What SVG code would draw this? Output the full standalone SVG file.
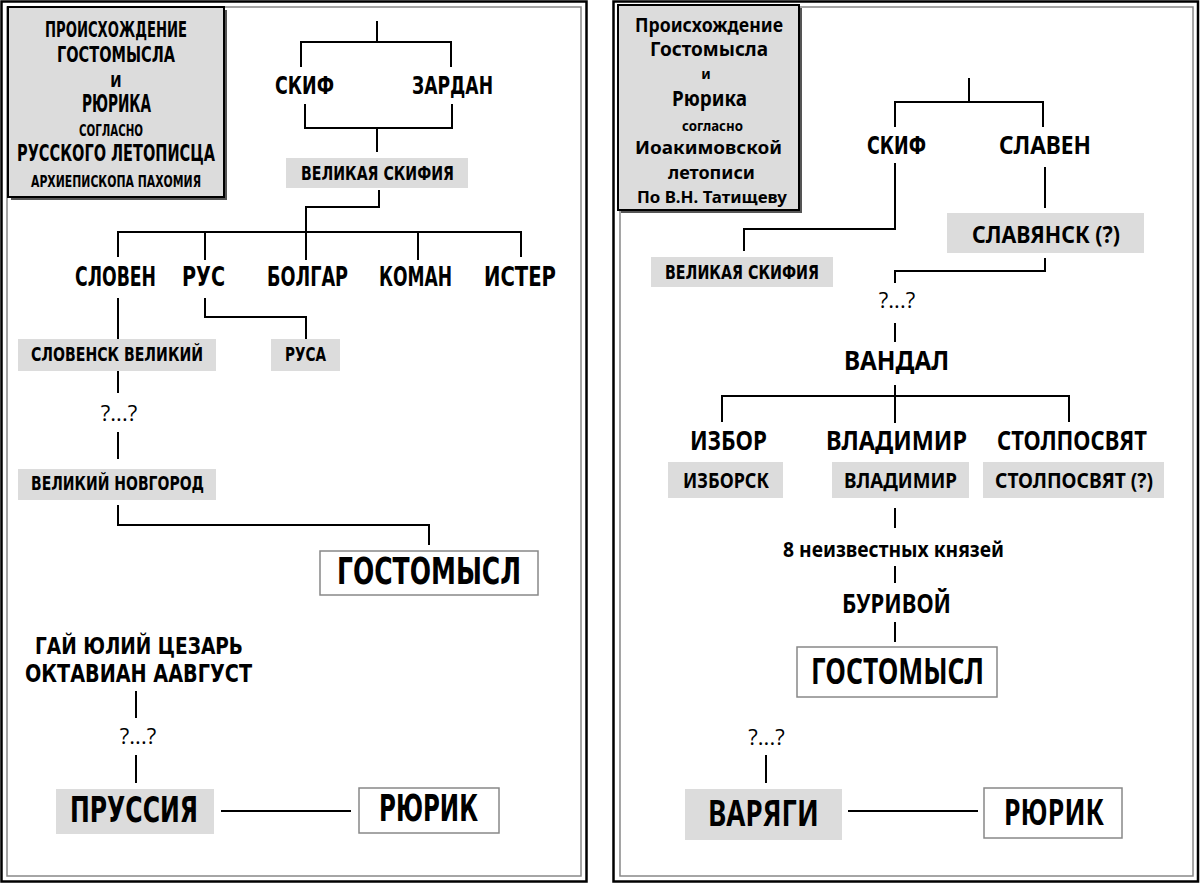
<svg xmlns="http://www.w3.org/2000/svg" width="1200" height="884" viewBox="0 0 1200 884">
<style>
.ru{font-family:"Liberation Sans Narrow","DejaVu Sans Condensed","Liberation Sans",sans-serif;font-weight:bold;text-anchor:middle;fill:#000}
.un{font-family:"Noto Sans","DejaVu Sans","Liberation Sans",sans-serif;font-weight:bold;text-anchor:middle;fill:#000}
.q{font-family:"Open Sans","DejaVu Sans",sans-serif;font-size:22px;text-anchor:middle;fill:#000}
.gbox{fill:#dcdcdc}
.wbox{fill:#fff;stroke:#888;stroke-width:1.5}
.tbox{fill:#dcdcdc;stroke:#000;stroke-width:2}
.shadow{fill:#555}
.outer{fill:none;stroke:#000;stroke-width:2.5}
.inner{fill:none;stroke:#888;stroke-width:1.5}
.ln{fill:none;stroke:#000;stroke-width:2}
</style>
<rect width="1200" height="884" fill="#fff"/>
<g id="frames">
<rect class="outer" x="1.5" y="1.5" width="585" height="880"/>
<rect class="inner" x="7" y="7" width="574" height="869"/>
<rect class="outer" x="613.5" y="1.5" width="584.5" height="880"/>
<rect class="inner" x="620" y="7" width="573" height="869"/>
</g>
<g id="connectors">
<path class="ln" d="M377,21 V42 M301,67 V42 H451 V67"/>
<path class="ln" d="M305,104 V128 H452 V104 M377,128 V152"/>
<path class="ln" d="M379,190 V207 H306 V260"/>
<path class="ln" d="M118,257 V232 H521 V257 M205,232 V260 M418,232 V260"/>
<path class="ln" d="M118,298 V339 M205,298 V317 H306 V339"/>
<path class="ln" d="M118,371 V393 M118,432 V459"/>
<path class="ln" d="M118,505 V525 H429 V545"/>
<path class="ln" d="M136,691 V718 M136,755 V783"/>
<path class="ln" d="M221,811 H351"/>
<path class="ln" d="M969,78 V102 M895,127 V102 H1043 V127"/>
<path class="ln" d="M895,163 V229 H744 V251"/>
<path class="ln" d="M1045,167 V208"/>
<path class="ln" d="M1045,258 V271 H895 V283"/>
<path class="ln" d="M895,323 V342"/>
<path class="ln" d="M895,385 V423 M722,422 V396 H1069 V422"/>
<path class="ln" d="M895,508 V528 M895,566 V583 M895,622 V642"/>
<path class="ln" d="M766,755 V783"/>
<path class="ln" d="M848,811 H978"/>
</g>
<g id="title-left">
<rect class="shadow" x="11" y="10" width="216" height="190"/>
<rect class="tbox" x="8" y="7" width="216" height="190"/>
<text class="ru" x="116" y="37" font-size="20.5" textLength="142" lengthAdjust="spacingAndGlyphs">ПРОИСХОЖДЕНИЕ</text>
<text class="ru" x="116" y="62" font-size="21" textLength="118" lengthAdjust="spacingAndGlyphs">ГОСТОМЫСЛА</text>
<text class="ru" x="116" y="87" font-size="15">И</text>
<text class="ru" x="116.5" y="112" font-size="24" textLength="69" lengthAdjust="spacingAndGlyphs">РЮРИКА</text>
<text class="ru" x="111" y="136" font-size="15.5" textLength="64" lengthAdjust="spacingAndGlyphs">СОГЛАСНО</text>
<text class="ru" x="116" y="161" font-size="22.5" textLength="198" lengthAdjust="spacingAndGlyphs">РУССКОГО ЛЕТОПИСЦА</text>
<text class="ru" x="116" y="187" font-size="15.5" textLength="170" lengthAdjust="spacingAndGlyphs">АРХИЕПИСКОПА ПАХОМИЯ</text>
</g>
<g id="l-skif"><text class="ru" x="304.5" y="94" font-size="25" textLength="59" lengthAdjust="spacingAndGlyphs">СКИФ</text></g>
<g id="l-zardan"><text class="ru" x="452.5" y="94" font-size="25" textLength="81" lengthAdjust="spacingAndGlyphs">ЗАРДАН</text></g>
<g id="l-velikaya-skifiya">
<rect class="gbox" x="286" y="158" width="182" height="30"/>
<text class="ru" x="377.5" y="180" font-size="19.5" textLength="153" lengthAdjust="spacingAndGlyphs">ВЕЛИКАЯ СКИФИЯ</text>
</g>
<g id="l-sloven"><text class="ru" x="115.5" y="286" font-size="26.5" textLength="81" lengthAdjust="spacingAndGlyphs">СЛОВЕН</text></g>
<g id="l-rus"><text class="ru" x="203.5" y="286" font-size="26.5" textLength="43" lengthAdjust="spacingAndGlyphs">РУС</text></g>
<g id="l-bolgar"><text class="ru" x="307.5" y="286" font-size="26.5" textLength="81" lengthAdjust="spacingAndGlyphs">БОЛГАР</text></g>
<g id="l-koman"><text class="ru" x="415.5" y="286" font-size="26.5" textLength="73" lengthAdjust="spacingAndGlyphs">КОМАН</text></g>
<g id="l-ister"><text class="ru" x="520" y="286" font-size="26.5" textLength="72" lengthAdjust="spacingAndGlyphs">ИСТЕР</text></g>
<g id="l-slovensk">
<rect class="gbox" x="18" y="339" width="198" height="32"/>
<text class="ru" x="117" y="361" font-size="19.5" textLength="172" lengthAdjust="spacingAndGlyphs">СЛОВЕНСК ВЕЛИКИЙ</text>
</g>
<g id="l-rusa">
<rect class="gbox" x="271" y="339" width="69" height="32"/>
<text class="ru" x="305.5" y="361" font-size="19.5" textLength="41" lengthAdjust="spacingAndGlyphs">РУСА</text>
</g>
<g id="l-q1"><text class="q" x="119" y="421">?...?</text></g>
<g id="l-novgorod">
<rect class="gbox" x="18" y="469" width="198" height="31"/>
<text class="ru" x="117.5" y="490" font-size="19.5" textLength="173" lengthAdjust="spacingAndGlyphs">ВЕЛИКИЙ НОВГОРОД</text>
</g>
<g id="l-gostomysl">
<rect class="wbox" x="320" y="551" width="218" height="44"/>
<text class="ru" x="429" y="584" font-size="37.5" textLength="184" lengthAdjust="spacingAndGlyphs">ГОСТОМЫСЛ</text>
</g>
<g id="l-caesar">
<text class="ru" x="139" y="654" font-size="23" textLength="208" lengthAdjust="spacingAndGlyphs">ГАЙ ЮЛИЙ  ЦЕЗАРЬ</text>
<text class="ru" x="138.5" y="682" font-size="25" textLength="227" lengthAdjust="spacingAndGlyphs">ОКТАВИАН  ААВГУСТ</text>
</g>
<g id="l-q2"><text class="q" x="138" y="744">?...?</text></g>
<g id="l-prussia">
<rect class="gbox" x="56" y="789" width="158" height="45"/>
<text class="ru" x="134" y="822" font-size="36" textLength="128" lengthAdjust="spacingAndGlyphs">ПРУССИЯ</text>
</g>
<g id="l-ryurik">
<rect class="wbox" x="359" y="788" width="140" height="45"/>
<text class="ru" x="428.5" y="821" font-size="37" textLength="99" lengthAdjust="spacingAndGlyphs">РЮРИК</text>
</g>
<g id="title-right">
<rect class="shadow" x="621" y="8" width="181" height="205"/>
<rect class="tbox" x="618" y="5" width="181" height="205"/>
<text class="un" x="709" y="32" font-size="19" textLength="148" lengthAdjust="spacingAndGlyphs">Происхождение</text>
<text class="un" x="709" y="56" font-size="19" textLength="118" lengthAdjust="spacingAndGlyphs">Гостомысла</text>
<text class="un" x="706" y="79" font-size="14">и</text>
<text class="un" x="709.5" y="106" font-size="21" textLength="75" lengthAdjust="spacingAndGlyphs">Рюрика</text>
<text class="un" x="712.5" y="131" font-size="15" textLength="61" lengthAdjust="spacingAndGlyphs">согласно</text>
<text class="un" x="708.5" y="154" font-size="18" textLength="147" lengthAdjust="spacingAndGlyphs">Иоакимовской</text>
<text class="un" x="711.5" y="179" font-size="18" textLength="87" lengthAdjust="spacingAndGlyphs">летописи</text>
<text class="un" x="712" y="203" font-size="16" textLength="150" lengthAdjust="spacingAndGlyphs">По В.Н. Татищеву</text>
</g>
<g id="r-skif"><text class="ru" x="896.5" y="154" font-size="25" textLength="59" lengthAdjust="spacingAndGlyphs">СКИФ</text></g>
<g id="r-slaven"><text class="un" x="1045" y="154" font-size="25" textLength="92" lengthAdjust="spacingAndGlyphs">СЛАВЕН</text></g>
<g id="r-velikaya-skifiya">
<rect class="gbox" x="651" y="257" width="182" height="30"/>
<text class="ru" x="742" y="279" font-size="20" textLength="154" lengthAdjust="spacingAndGlyphs">ВЕЛИКАЯ СКИФИЯ</text>
</g>
<g id="r-slavyansk">
<rect class="gbox" x="947" y="213" width="197" height="40"/>
<text class="un" x="1046" y="243" font-size="24" textLength="148" lengthAdjust="spacingAndGlyphs">СЛАВЯНСК (?)</text>
</g>
<g id="r-q1"><text class="q" x="897" y="308">?...?</text></g>
<g id="r-vandal"><text class="un" x="896.5" y="370" font-size="26" textLength="105" lengthAdjust="spacingAndGlyphs">ВАНДАЛ</text></g>
<g id="r-izbor"><text class="un" x="728.5" y="450" font-size="26" textLength="77" lengthAdjust="spacingAndGlyphs">ИЗБОР</text></g>
<g id="r-vladimir"><text class="un" x="896.5" y="450" font-size="26" textLength="141" lengthAdjust="spacingAndGlyphs">ВЛАДИМИР</text></g>
<g id="r-stolposvyat"><text class="un" x="1072" y="450" font-size="26" textLength="150" lengthAdjust="spacingAndGlyphs">СТОЛПОСВЯТ</text></g>
<g id="r-izborsk">
<rect class="gbox" x="668" y="462" width="115" height="36"/>
<text class="un" x="726" y="488" font-size="21" textLength="86" lengthAdjust="spacingAndGlyphs">ИЗБОРСК</text>
</g>
<g id="r-vladimir-city">
<rect class="gbox" x="832" y="462" width="137" height="36"/>
<text class="un" x="900.5" y="488" font-size="21" textLength="113" lengthAdjust="spacingAndGlyphs">ВЛАДИМИР</text>
</g>
<g id="r-stolposvyat-city">
<rect class="gbox" x="983" y="462" width="181" height="36"/>
<text class="un" x="1074" y="488" font-size="21" textLength="158" lengthAdjust="spacingAndGlyphs">СТОЛПОСВЯТ (?)</text>
</g>
<g id="r-8princes"><text class="un" x="893.5" y="557" font-size="22" textLength="221" lengthAdjust="spacingAndGlyphs">8 неизвестных князей</text></g>
<g id="r-burivoy"><text class="un" x="896.5" y="613" font-size="27" textLength="109" lengthAdjust="spacingAndGlyphs">БУРИВОЙ</text></g>
<g id="r-gostomysl">
<rect class="wbox" x="797" y="647" width="200" height="50"/>
<text class="un" x="897.5" y="684" font-size="35" textLength="173" lengthAdjust="spacingAndGlyphs">ГОСТОМЫСЛ</text>
</g>
<g id="r-q2"><text class="q" x="766.5" y="745">?...?</text></g>
<g id="r-varyagi">
<rect class="gbox" x="685" y="789" width="157" height="51"/>
<text class="un" x="763.5" y="826" font-size="36" textLength="111" lengthAdjust="spacingAndGlyphs">ВАРЯГИ</text>
</g>
<g id="r-ryurik">
<rect class="wbox" x="984" y="788" width="138" height="50"/>
<text class="un" x="1054" y="825" font-size="36" textLength="100" lengthAdjust="spacingAndGlyphs">РЮРИК</text>
</g>
</svg>
